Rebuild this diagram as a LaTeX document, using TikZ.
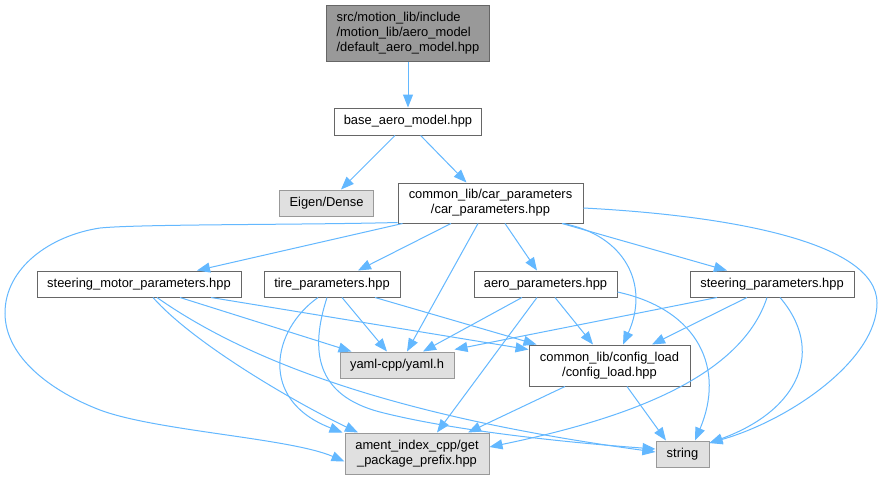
\documentclass[tikz,border=0pt]{standalone}
\usepackage{fontspec}
\setmainfont{Liberation Sans}
\usetikzlibrary{arrows.meta}
\definecolor{edgeblue}{HTML}{63B8FF}
\definecolor{boxborder}{HTML}{666666}
\definecolor{extborder}{HTML}{999999}
\definecolor{extfill}{HTML}{E0E0E0}
\definecolor{topfill}{HTML}{999999}
\begin{document}
\begin{tikzpicture}[x=1pt,y=-1pt,
  box/.style={draw=boxborder, fill=white, line width=1pt, inner sep=0pt, align=center, font=\fontsize{12.9}{14.8}\selectfont},
  ext/.style={box, draw=extborder, fill=extfill},
  dep/.style={draw=edgeblue, line width=1pt, -{Triangle[length=13pt,width=10pt]}}]
\useasboundingbox (0,0) rectangle (882,480);
\fill[white] (0,0) rectangle (882,480);
% nodes
\node[box, fill=topfill, minimum width=163pt, minimum height=56pt, align=left] (top) at (408,33) {src/motion\_lib/include\\/motion\_lib/aero\_model\\/default\_aero\_model.hpp};
\node[box, minimum width=147pt, minimum height=27pt] (base) at (408,121.5) {base\_aero\_model.hpp};
\node[ext, minimum width=94.5pt, minimum height=26pt] (eigen) at (326.5,203) {Eigen/Dense};
\node[box, minimum width=185pt, minimum height=40pt] (car) at (490.5,203) {common\_lib/car\_parameters\\/car\_parameters.hpp};
\node[box, minimum width=204pt, minimum height=26pt] (smotor) at (139,284) {steering\_motor\_parameters.hpp};
\node[box, minimum width=136pt, minimum height=26pt] (tire) at (332,284) {tire\_parameters.hpp};
\node[box, minimum width=143pt, minimum height=26pt] (aero) at (545.5,284) {aero\_parameters.hpp};
\node[box, minimum width=164pt, minimum height=26pt] (sparams) at (772,284) {steering\_parameters.hpp};
\node[ext, minimum width=114pt, minimum height=26pt] (yaml) at (397,365) {yaml-cpp/yaml.h};
\node[box, minimum width=161pt, minimum height=41pt] (config) at (609.5,365.5) {common\_lib/config\_load\\/config\_load.hpp};
\node[ext, minimum width=144pt, minimum height=41pt] (ament) at (417,453.5) {ament\_index\_cpp/get\\\_package\_prefix.hpp};
\node[ext, minimum width=53pt, minimum height=26pt] (string) at (682.5,454) {string};
% edges
\draw[dep] (top.south) -- (base.north);
\draw[dep] ([xshift=-13pt]base.south) -- ([xshift=14.5pt]eigen.north);
\draw[dep] ([xshift=12.6pt]base.south) -- ([xshift=-24pt]car.north);
\draw[dep] ([xshift=5pt]car.south west) -- ([xshift=58pt]smotor.north);
\draw[dep] ([xshift=-39.5pt]car.south) -- ([xshift=26pt]tire.north);
\draw[dep] ([xshift=-12.5pt]car.south) -- ([xshift=10pt]yaml.north);
\draw[dep] ([xshift=14.5pt]car.south) -- ([xshift=-8.5pt]aero.north);
\draw[dep] ([xshift=71.5pt]car.south) -- ([xshift=-45pt]sparams.north);
\draw[dep] ([xshift=72.5pt]car.south) .. controls (625,235) and (650,285) .. ([xshift=13.5pt]config.north);
\draw[dep] ([yshift=-5pt]car.east) .. controls (720,215) and (877,240) .. (877,303)
           .. controls (877,360) and (790,420) .. ([yshift=11pt]string.east);
\draw[dep] ([yshift=1pt]car.south west) .. controls (300,225) and (140,224) .. (100,228)
           .. controls (50,235.5) and (5,268) .. (5,313)
           .. controls (5,358) and (53,392) .. (100,410)
           .. controls (156,431) and (290,438) .. ([yshift=-8pt]ament.west);
\draw[dep] ([xshift=41pt]smotor.south) -- ([xshift=12pt]yaml.north west);
\draw[dep] ([xshift=72pt]smotor.south) -- ([yshift=-5pt]config.north west);
\draw[dep] ([xshift=14pt]smotor.south) .. controls (195,345) and (300,405) .. ([xshift=-59pt]ament.north);
\draw[dep] ([xshift=18pt]smotor.south) .. controls (260,370) and (420,420) .. ([yshift=2pt]string.west);
\draw[dep] ([xshift=10pt]tire.south) -- ([xshift=-10pt]yaml.north);
\draw[dep] ([xshift=43pt]tire.south) -- ([xshift=8pt]config.north west);
\draw[dep] ([xshift=-14pt]tire.south) .. controls (272,330) and (258,400) .. ([xshift=-2pt]ament.north west);
\draw[dep] ([xshift=-5pt]tire.south) .. controls (310,350) and (315,395) .. (380,412)
           .. controls (450,430) and (560,442) .. ([yshift=5pt]string.west);
\draw[dep] ([xshift=-23.5pt]aero.south) -- ([xshift=26pt]yaml.north);
\draw[dep] ([xshift=9.5pt]aero.south) -- ([xshift=-16.5pt]config.north);
\draw[dep] ([xshift=-8.5pt]aero.south) -- ([xshift=20pt]ament.north);
\draw[dep] ([yshift=-8pt]aero.east) .. controls (700,310) and (725,370) .. ([xshift=12.5pt]string.north);
\draw[dep] ([xshift=-55pt]sparams.south) -- ([yshift=2pt]yaml.north east);
\draw[dep] ([xshift=-25pt]sparams.south) -- ([xshift=42.5pt]config.north);
\draw[dep] ([xshift=-5pt]sparams.south) .. controls (740,380) and (620,420) .. ([yshift=6.5pt]ament.east);
\draw[dep] ([xshift=8pt]sparams.south) .. controls (825,350) and (800,410) .. ([yshift=11pt]string.east);
\draw[dep] ([xshift=-44.5pt]config.south) -- ([xshift=51pt]ament.north);
\draw[dep] ([xshift=17.5pt]config.south) -- ([xshift=-16.5pt]string.north);
\end{tikzpicture}
\end{document}
